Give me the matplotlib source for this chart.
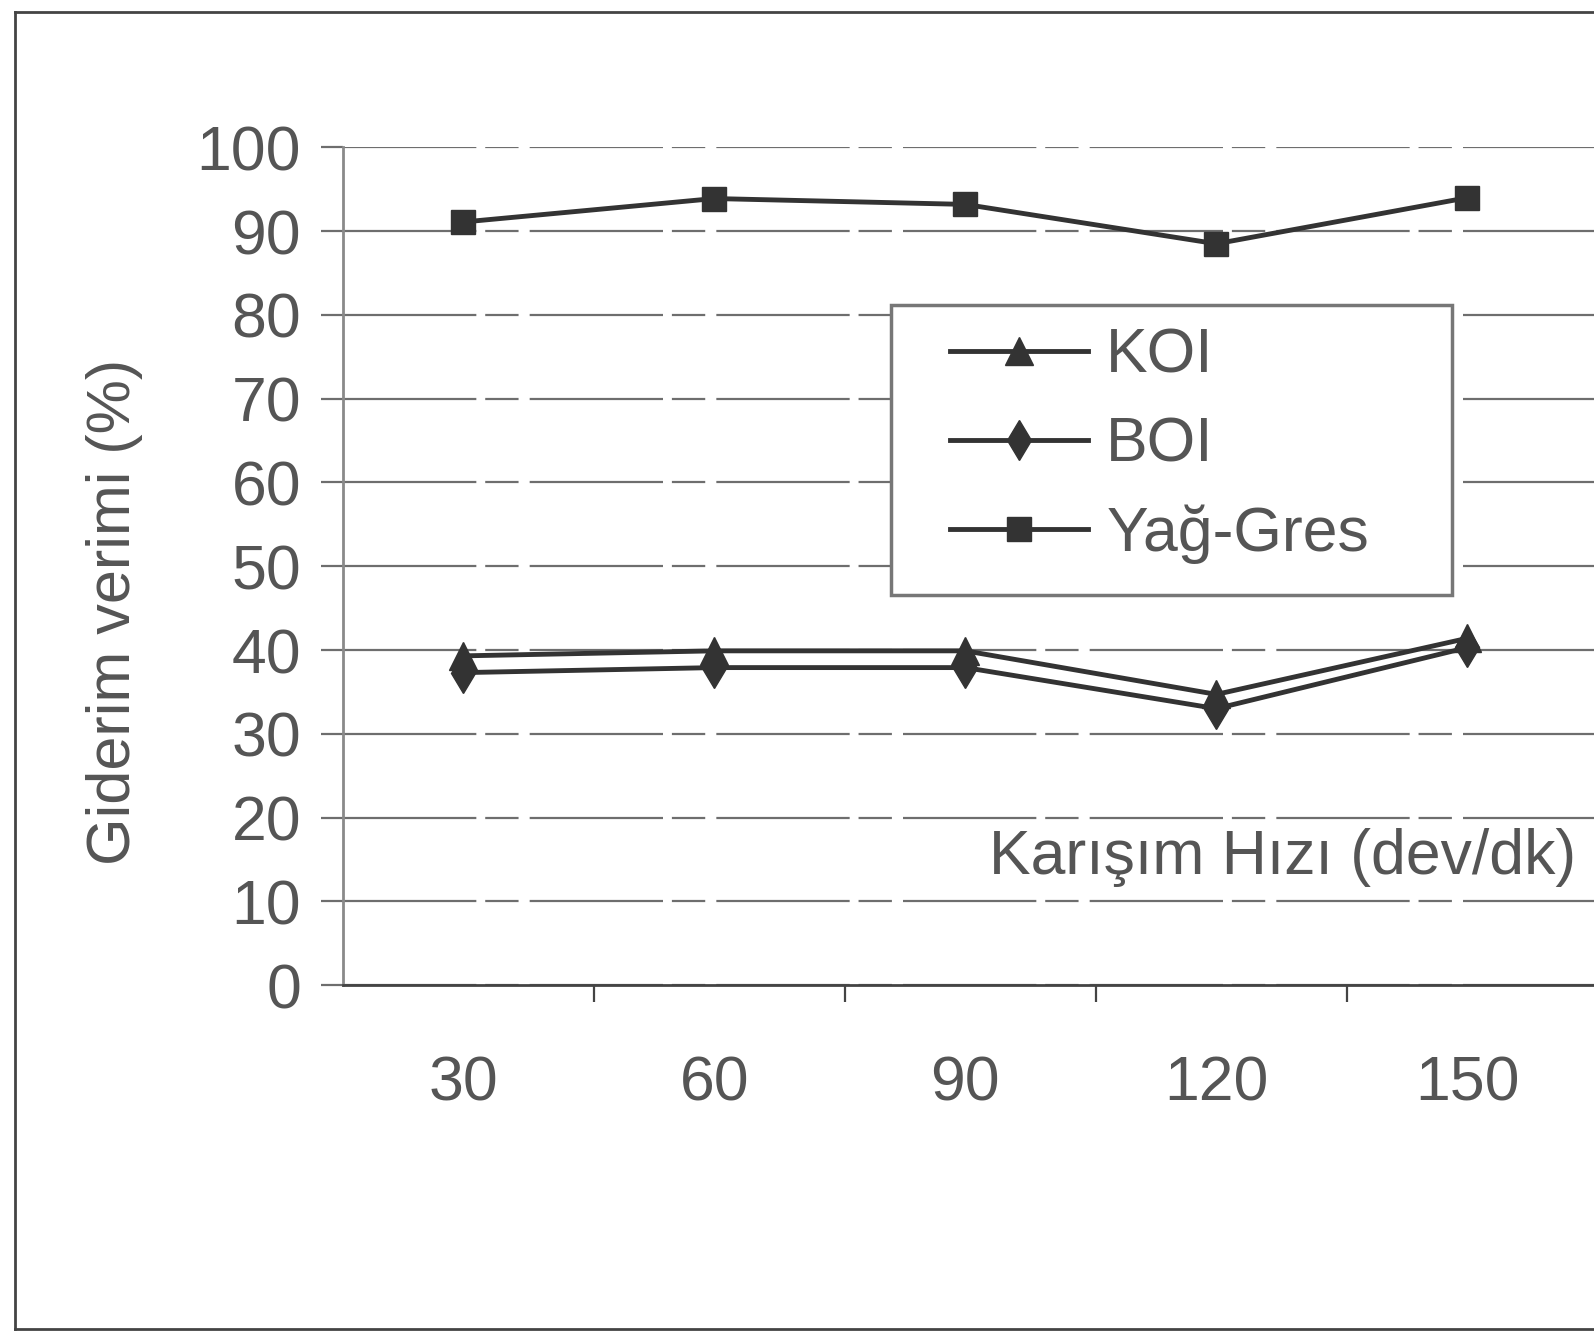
import matplotlib.pyplot as plt
from matplotlib.lines import Line2D
from matplotlib.patches import Rectangle

# mixing speed categories (rpm) and removal efficiencies (%)
speeds = ['30', '60', '90', '120', '150']
koi = [39.3, 39.9, 39.9, 34.7, 41.4]
boi = [37.3, 37.9, 37.9, 33.0, 40.3]
yag_gres = [91.1, 93.9, 93.2, 88.5, 94.0]

TEXT = '#555555'
LINE = '#333333'
GRID = '#6e6e6e'


def main():
    plt.rcParams['font.family'] = ['Liberation Sans', 'DejaVu Sans']
    fig = plt.figure(figsize=(15.94, 13.38), dpi=100)
    ax = fig.add_axes([0.215, 0.2638, 0.7875, 0.626])

    x = list(range(len(speeds)))
    ax.plot(x, koi, color=LINE, lw=3.5, marker='^', ms=20, label='KOI')
    ax.plot(x, boi, color=LINE, lw=3.5, marker='d', ms=20, label='BOI')
    ax.plot(x, yag_gres, color=LINE, lw=3.5, marker='s', ms=17, label='Yağ-Gres')

    ax.set_xlim(-0.48, len(speeds) - 0.48)
    ax.set_ylim(0, 100)
    ax.set_yticks(range(0, 101, 10))
    ax.tick_params(axis='y', labelsize=45, labelcolor=TEXT, length=16,
                   width=1.6, color=GRID, pad=14)
    ax.yaxis.grid(True, color=GRID, lw=1.6, dashes=(60, 4, 15, 5))
    ax.set_axisbelow(True)

    # labels sit under each category, ticks mark the boundaries
    ax.set_xticks(x)
    ax.set_xticklabels(speeds)
    ax.tick_params(axis='x', which='major', length=0, labelsize=45,
                   labelcolor=TEXT, pad=50)
    ax.set_xticks([i + 0.52 for i in x[:-1]], minor=True)
    ax.tick_params(axis='x', which='minor', length=12, width=1.6, color='#444444')

    for side in ['top', 'right']:
        ax.spines[side].set_visible(False)
    ax.spines['left'].set_color('#8a8a8a')
    ax.spines['left'].set_linewidth(2)
    ax.spines['bottom'].set_color('#444444')
    ax.spines['bottom'].set_linewidth(2)

    fig.text(0.072, 0.5426, 'Giderim verimi (%)', rotation=90, fontsize=44,
             color=TEXT, ha='center', va='center')
    fig.text(0.9885, 0.3594, 'Karışım Hızı (dev/dk)', fontsize=45,
             color=TEXT, ha='right', va='center')

    # legend box drawn as its own rectangle, entries placed inside it
    fig.add_artist(Rectangle((0.5587, 0.5555), 0.352, 0.2165,
                             transform=fig.transFigure, facecolor='white',
                             edgecolor='#777777', lw=2.5, zorder=3))
    leg = ax.legend(loc='upper left', bbox_to_anchor=(0.596, 0.756),
                    bbox_transform=fig.transFigure, fontsize=45,
                    handlelength=2.2, handletextpad=0.3, labelspacing=0.48,
                    borderpad=0, borderaxespad=0, frameon=False,
                    labelcolor=TEXT)
    leg.set_zorder(4)
    fig.add_artist(leg)

    # outer frame around the figure (open on the right)
    frame = dict(color='#444444', lw=2, transform=fig.transFigure)
    fig.add_artist(Line2D([0.0096, 0.0096], [0.007, 0.991], **frame))
    fig.add_artist(Line2D([0.0096, 1.0], [0.991, 0.991], **frame))
    fig.add_artist(Line2D([0.0096, 1.0], [0.007, 0.007], **frame))

    fig.savefig('out.png', dpi=100)


if __name__ == "__main__":
    main()
